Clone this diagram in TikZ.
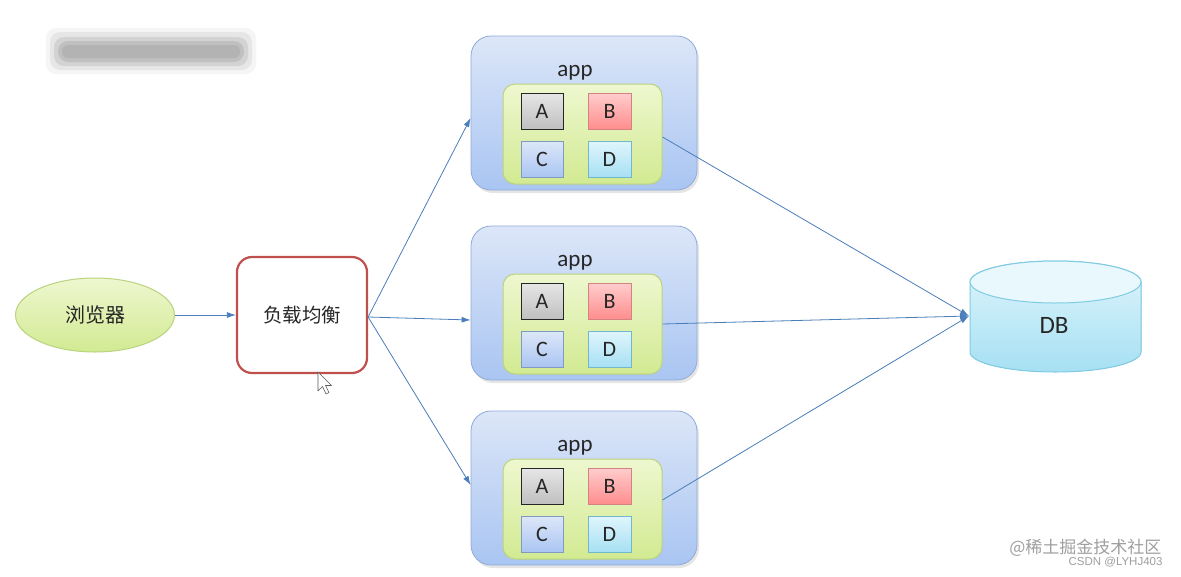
\documentclass[tikz,border=0pt]{standalone}
\usepackage{fontspec}
\setmainfont{Carlito}
\newfontfamily\cjk{Noto Sans CJK SC}
\usetikzlibrary{shapes.geometric,arrows.meta,calc,shadows}
\definecolor{arrowc}{HTML}{4A7EBB}
\definecolor{apptop}{HTML}{DCE6F8}
\definecolor{appbot}{HTML}{A9C5F2}
\definecolor{appline}{HTML}{8FABD8}
\definecolor{grntop}{HTML}{EEF7CF}
\definecolor{grnbot}{HTML}{D2EA92}
\definecolor{grnline}{HTML}{B9D37E}
\definecolor{lbred}{HTML}{C0504D}
\definecolor{dbtop}{HTML}{DFF5FC}
\definecolor{dbbot}{HTML}{A6E0F3}
\definecolor{dbline}{HTML}{7FCBE3}
\definecolor{txt}{HTML}{262626}
\begin{document}
\begin{tikzpicture}[x=1pt,y=-1pt,
  arr/.style={draw=arrowc, line width=0.8pt, -{Latex[length=9pt,width=6pt]}},
  appbox/.style={rectangle, rounded corners=20pt, minimum width=226pt, minimum height=154pt,
     draw=appline, line width=0.8pt, top color=apptop, bottom color=appbot,
     drop shadow={opacity=0.2, shadow xshift=2pt, shadow yshift=-3pt}},
  innerbox/.style={rectangle, rounded corners=12pt, minimum width=159pt, minimum height=100pt,
     draw=grnline, line width=1pt, top color=grntop, bottom color=grnbot},
  sq/.style={rectangle, minimum width=42pt, minimum height=36pt, line width=1pt,
     font=\fontsize{22}{24}\selectfont, text=txt},
  lbl/.style={font=\fontsize{23}{26}\selectfont, text=txt},
  blur/.style={fill=gray, rounded corners=10pt}
]
\useasboundingbox (0,0) rectangle (1181,576);
\fill[white] (0,0) rectangle (1181,576);

% blurred title
\fill[blur, opacity=0.08] (46,28) rectangle (256,74);
\fill[blur, opacity=0.12] (50,32) rectangle (252,70);
\fill[blur, opacity=0.18] (54,37) rectangle (248,66);
\fill[blur, opacity=0.22] (58,41) rectangle (244,62);
\fill[blur, opacity=0.2, rounded corners=6pt] (62,45) rectangle (240,58);

% browser
\node[ellipse, minimum width=159pt, minimum height=74pt, draw=grnline, line width=1pt,
  top color=grntop, bottom color=grnbot, font=\cjk\fontsize{20}{24}\selectfont, text=txt]
  (browser) at (95,315) {浏览器};

% load balancer
\node[rectangle, rounded corners=15pt, minimum width=130pt, minimum height=116pt,
  draw=lbred, line width=2.2pt, fill=white, font=\cjk\fontsize{19.5}{24}\selectfont, text=txt]
  (lb) at (302,315) {负载均衡};

% cursor
\draw[gray!70!black, fill=white, line width=0.6pt, line join=round]
  (318,372) -- (318,391) -- (322.5,386.5) -- (326,394) -- (329,392.5) -- (325.5,385.5) -- (331.5,385.5) -- cycle;

% app boxes
\foreach \n/\t in {1/36, 2/226, 3/411}{
  \node[appbox] (app\n) at (584,\t+77) {};
  \node[lbl] (applbl\n) at (575,\t+37) {app};
  \node[innerbox] (in\n) at (582.5,\t+98) {};
  \node[sq, draw=black!85, top color=gray!20, bottom color=gray!50] (A\n) at (542,\t+75.5) {A};
  \node[sq, draw=lbred!70, top color=red!20, bottom color=red!45!white, minimum width=43pt] (B\n) at (609.5,\t+75.5) {B};
  \node[sq, draw=appline!90!black, top color=apptop, bottom color=appbot] (C\n) at (542,\t+123.5) {C};
  \node[sq, draw=dbline!90!black, top color=dbtop, bottom color=dbbot, minimum width=43pt] (D\n) at (609.5,\t+123.5) {D};
}

% DB cylinder
\fill[top color=dbtop, bottom color=dbbot, draw=dbline, line width=1pt]
  (970,282) -- (970,352) arc[start angle=180, end angle=360, x radius=85.5pt, y radius=20pt]
  -- (1141,282) arc[start angle=0, end angle=180, x radius=85.5pt, y radius=21pt] -- cycle;
\draw[dbline, line width=1pt, fill=dbtop!70!white] (1055.5,282) ellipse [x radius=85.5pt, y radius=21pt];
\node[font=\fontsize{25}{28}\selectfont, text=txt] (db) at (1054,325) {DB};
\coordinate (dbw) at (969,316);

% connectors
\draw[arr] (browser.east) -- (lb.west);
\draw[arr] ($(lb.east)+(0,2)$) -- ($(app1.west)+(0,5)$);
\draw[arr] ($(lb.east)+(0,2)$) -- ($(app2.west)+(0,17)$);
\draw[arr] ($(lb.east)+(0,2)$) -- ($(app3.west)+(0,-3)$);
\draw[arr] ($(in1.east)+(0,3)$) -- (dbw);
\draw[arr] (in2.east) -- (dbw);
\draw[arr] ($(in3.east)+(0,-9)$) -- (dbw);

% watermarks
\node[anchor=east, text=gray!75, font=\cjk\fontsize{17}{20}\selectfont] (wm1) at (1165,548) {@稀土掘金技术社区};
\node[anchor=east, text=gray!75, font=\fontspec{Liberation Sans}\fontsize{11.5}{14}\selectfont] (wm2) at (1166,562) {CSDN @LYHJ403};
\end{tikzpicture}
\end{document}
